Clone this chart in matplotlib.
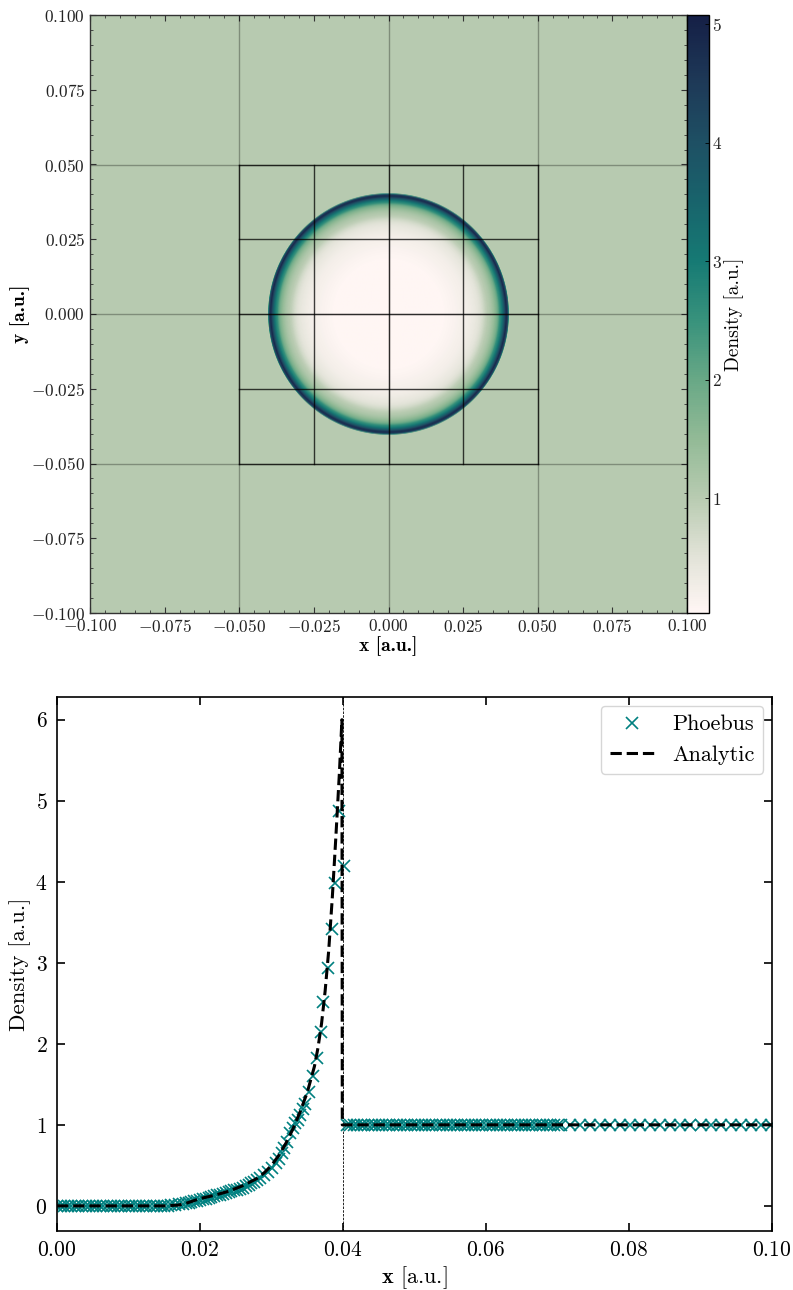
import numpy as np
import matplotlib
matplotlib.use("Agg")
import matplotlib.pyplot as plt
from matplotlib import ticker
from matplotlib.colors import LinearSegmentedColormap, Normalize

plt.rcParams["font.family"] = "serif"
plt.rcParams["font.serif"] = ["cmr10"]
plt.rcParams["mathtext.fontset"] = "cm"
plt.rcParams["axes.formatter.use_mathtext"] = True

# ---------------------------------------------------------------- data
# Phoebus density samples along the radius
core_x = [0.0000, 0.0005, 0.0010, 0.0015, 0.0020, 0.0025, 0.0030, 0.0035, 0.0040,
          0.0045, 0.0050, 0.0055, 0.0060, 0.0065, 0.0070, 0.0075, 0.0080, 0.0085,
          0.0090, 0.0095, 0.0100, 0.0105, 0.0110, 0.0115, 0.0120, 0.0125, 0.0130,
          0.0135, 0.0140, 0.0145, 0.0150, 0.0155, 0.0160, 0.0165, 0.0170]
core_rho = [0.00, 0.00, 0.00, 0.00, 0.00, 0.00, 0.00, 0.00, 0.00,
            0.00, 0.00, 0.00, 0.00, 0.00, 0.00, 0.00, 0.00, 0.00,
            0.00, 0.00, 0.00, 0.00, 0.00, 0.00, 0.00, 0.00, 0.00,
            0.00, 0.00, 0.00, 0.00, 0.00, 0.01, 0.01, 0.02]

rise_x = [0.0176, 0.0180, 0.0184, 0.0188, 0.0192, 0.0196, 0.0200, 0.0204, 0.0208,
          0.0212, 0.0216, 0.0220, 0.0224, 0.0228, 0.0232, 0.0236, 0.0240, 0.0244,
          0.0248, 0.0252, 0.0256, 0.0260, 0.0264, 0.0268, 0.0272, 0.0276, 0.0280,
          0.0284, 0.0290, 0.02955, 0.0301, 0.03063, 0.0310, 0.03143, 0.0318, 0.03212,
          0.03259, 0.0330, 0.03329, 0.0337, 0.03399, 0.0344, 0.03469, 0.03529,
          0.03585, 0.03641, 0.03688, 0.03725, 0.03795, 0.03842, 0.03888, 0.03948,
          0.04014]
rise_rho = [0.02, 0.03, 0.04, 0.05, 0.055, 0.06, 0.07, 0.08, 0.09,
            0.10, 0.11, 0.12, 0.13, 0.14, 0.15, 0.16, 0.17, 0.18,
            0.19, 0.20, 0.21, 0.22, 0.24, 0.26, 0.28, 0.30, 0.32,
            0.35, 0.38, 0.42, 0.47, 0.53, 0.58, 0.65, 0.72, 0.79,
            0.90, 0.96, 1.02, 1.06, 1.12, 1.19, 1.26, 1.41,
            1.60, 1.82, 2.14, 2.51, 2.93, 3.42, 3.98, 4.87,
            4.20]

shell_x = [0.0405, 0.0410, 0.0415, 0.0420, 0.0425, 0.0430, 0.0435, 0.0440, 0.0445,
           0.0450, 0.0455, 0.0460, 0.0465, 0.0470, 0.0475, 0.0480, 0.0485, 0.0490,
           0.0495, 0.0500, 0.0505, 0.0510, 0.0515, 0.0520, 0.0525, 0.0530, 0.0535,
           0.0540, 0.0545, 0.0550, 0.0555, 0.0560, 0.0565, 0.0570, 0.0575, 0.0580,
           0.0585, 0.0590, 0.0595, 0.0600, 0.0605, 0.0610, 0.0615, 0.0620, 0.0625,
           0.0630, 0.0635, 0.0640, 0.0645, 0.0650, 0.0655, 0.0660, 0.0665, 0.0670,
           0.0675, 0.0680, 0.0685, 0.0690, 0.0695, 0.0700, 0.0705]
shell_rho = [1.0] * len(shell_x)

outer_x = [0.0718, 0.0732, 0.0746, 0.0760, 0.0774, 0.0788, 0.0802, 0.0816, 0.0830,
           0.0844, 0.0858, 0.0872, 0.0886, 0.0900, 0.0914, 0.0928, 0.0942, 0.0956,
           0.0970, 0.0984, 0.0998]
outer_rho = [1.0] * len(outer_x)

# Analytic Sedov profile
analytic_x = [0.0000, 0.0100, 0.0150, 0.0170, 0.0180, 0.0190, 0.0200, 0.0220, 0.0240,
              0.0260, 0.0280, 0.0290, 0.0300, 0.0310, 0.0320, 0.0330, 0.0340, 0.0350,
              0.0360, 0.0365, 0.0370, 0.0375, 0.0380, 0.0385, 0.0390, 0.0395, 0.03985,
              0.03990, 0.0600, 0.1000]
analytic_rho = [0.00, 0.00, 0.00, 0.01, 0.03, 0.06, 0.09, 0.13, 0.18,
                0.25, 0.34, 0.41, 0.50, 0.62, 0.77, 0.95, 1.16, 1.40,
                1.72, 1.95, 2.25, 2.65, 3.15, 3.80, 4.55, 5.35, 6.00,
                1.00, 1.00, 1.00]
shock_radius = 0.04

# Mesh block edges (coarse root level and one refined level)
coarse_edges = [-0.10, -0.05, 0.00, 0.05, 0.10]
fine_edges = [-0.05, -0.025, 0.00, 0.025, 0.05]

# Colour map anchors (density, RGB)
cmap_levels = [0.03, 0.5, 1.0, 1.5, 2.0, 2.5, 3.0, 3.5, 4.0, 4.5, 5.08]
cmap_colors = ["#fff6f4", "#e2e3d8", "#b8cbb1", "#92ba96", "#68a886", "#38927c",
               "#167a74", "#18646c", "#1e5064", "#1e3a58", "#151f46"]

# ---------------------------------------------------------------- figure
W, H = 793, 1290
fig = plt.figure(figsize=(W / 100, H / 100), dpi=100)

vmin, vmax = cmap_levels[0], cmap_levels[-1]
cmap = LinearSegmentedColormap.from_list(
    "tempo_like",
    [((v - vmin) / (vmax - vmin), c) for v, c in zip(cmap_levels, cmap_colors)])
norm = Normalize(vmin=vmin, vmax=vmax)

# radial profile used to paint the 2D slice
prof_x = np.array(core_x + rise_x + shell_x + outer_x)
prof_r = np.array(core_rho + rise_rho + shell_rho + outer_rho)
order = np.argsort(prof_x)
prof_x, prof_r = prof_x[order], prof_r[order]
ngrid = 600
g = np.linspace(-0.1, 0.1, ngrid)
gx, gy = np.meshgrid(g, g)
rad = np.hypot(gx, gy)
rho2d = np.interp(rad, prof_x, prof_r, right=1.0)
rho2d = np.clip(rho2d, vmin, None)

ax1 = fig.add_axes([90 / W, 1 - 613 / H, 597 / W, 598 / H])
im = ax1.imshow(rho2d, extent=[-0.1, 0.1, -0.1, 0.1], origin="lower",
                cmap=cmap, norm=norm, aspect="auto", interpolation="bilinear")

# coarse block boundaries
for e in coarse_edges[1:-1]:
    ax1.plot([e, e], [-0.1, 0.1], color="k", lw=1.0, alpha=0.3)
    ax1.plot([-0.1, 0.1], [e, e], color="k", lw=1.0, alpha=0.3)
# refined block boundaries
for e in fine_edges:
    ax1.plot([e, e], [fine_edges[0], fine_edges[-1]], color="k", lw=1.0, alpha=0.75)
    ax1.plot([fine_edges[0], fine_edges[-1]], [e, e], color="k", lw=1.0, alpha=0.75)

ax1.set_xlim(-0.1, 0.1)
ax1.set_ylim(-0.1, 0.1)


def fmt3(v, pos):
    if abs(v) < 1e-12:
        v = 0.0
    return f"${v:.3f}$"


for axis in (ax1.xaxis, ax1.yaxis):
    axis.set_major_locator(ticker.MultipleLocator(0.025))
    axis.set_minor_locator(ticker.MultipleLocator(0.005))
    axis.set_major_formatter(ticker.FuncFormatter(fmt3))
ax1.tick_params(which="both", direction="in", top=True, right=True,
                labelsize=12.5, colors="#333333", labelcolor="#222222")
ax1.tick_params(which="major", length=4, width=0.8)
ax1.tick_params(which="minor", length=2, width=0.6)
for s in ax1.spines.values():
    s.set_linewidth(1.0)
    s.set_color("#333333")
ax1.set_xlabel("x [a.u.]", fontsize=14, family="cmb10", labelpad=1)
ax1.set_ylabel("y [a.u.]", fontsize=14, family="cmb10", labelpad=1)

cax = fig.add_axes([687 / W, 1 - 613 / H, 22 / W, 598 / H])
cb = fig.colorbar(im, cax=cax)
cb.set_ticks([1, 2, 3, 4, 5])
cb.ax.yaxis.set_major_formatter(ticker.FuncFormatter(lambda v, p: f"${v:.0f}$"))
cb.ax.tick_params(direction="in", length=3, width=0.6, labelsize=12.5, pad=2,
                  labelcolor="#222222")
cb.outline.set_linewidth(1.0)
cb.set_label("Density [a.u.]", fontsize=14, labelpad=2)

# ---------------------------------------------------------------- 1D profile
ax2 = fig.add_axes([57 / W, 1 - 1231 / H, 715 / W, 534 / H])
ax2.plot(core_x + rise_x + shell_x + outer_x,
         core_rho + rise_rho + shell_rho + outer_rho,
         linestyle="none", marker="x", ms=9, mew=1.2, color="teal",
         label="Phoebus", zorder=2)
ax2.plot(analytic_x, analytic_rho, "--", color="k", lw=2.2, label="Analytic", zorder=3)
ax2.axvline(shock_radius, color="k", lw=0.6, ls=(0, (3, 1.5)), zorder=1)

ax2.set_xlim(0, 0.1)
ax2.set_ylim(-0.31, 6.28)
ax2.xaxis.set_major_locator(ticker.MultipleLocator(0.02))
ax2.xaxis.set_major_formatter(ticker.FuncFormatter(lambda v, p: f"${v:.2f}$"))
ax2.yaxis.set_major_locator(ticker.MultipleLocator(1))
ax2.yaxis.set_major_formatter(ticker.FuncFormatter(lambda v, p: f"${v:.0f}$"))
ax2.tick_params(direction="in", top=True, right=True, length=6, width=1.2,
                labelsize=15.5, pad=7)
for s in ax2.spines.values():
    s.set_linewidth(1.2)
ax2.set_xlabel(r"$\mathbf{x}$ [a.u.]", fontsize=16, labelpad=3)
ax2.set_ylabel("Density [a.u.]", fontsize=16.5, labelpad=3)
leg = ax2.legend(loc="upper right", fontsize=16, frameon=True, fancybox=True,
                 framealpha=0.8, edgecolor="#cccccc", handlelength=2.0,
                 borderaxespad=0.4)

fig.savefig("out.png", dpi=100)
